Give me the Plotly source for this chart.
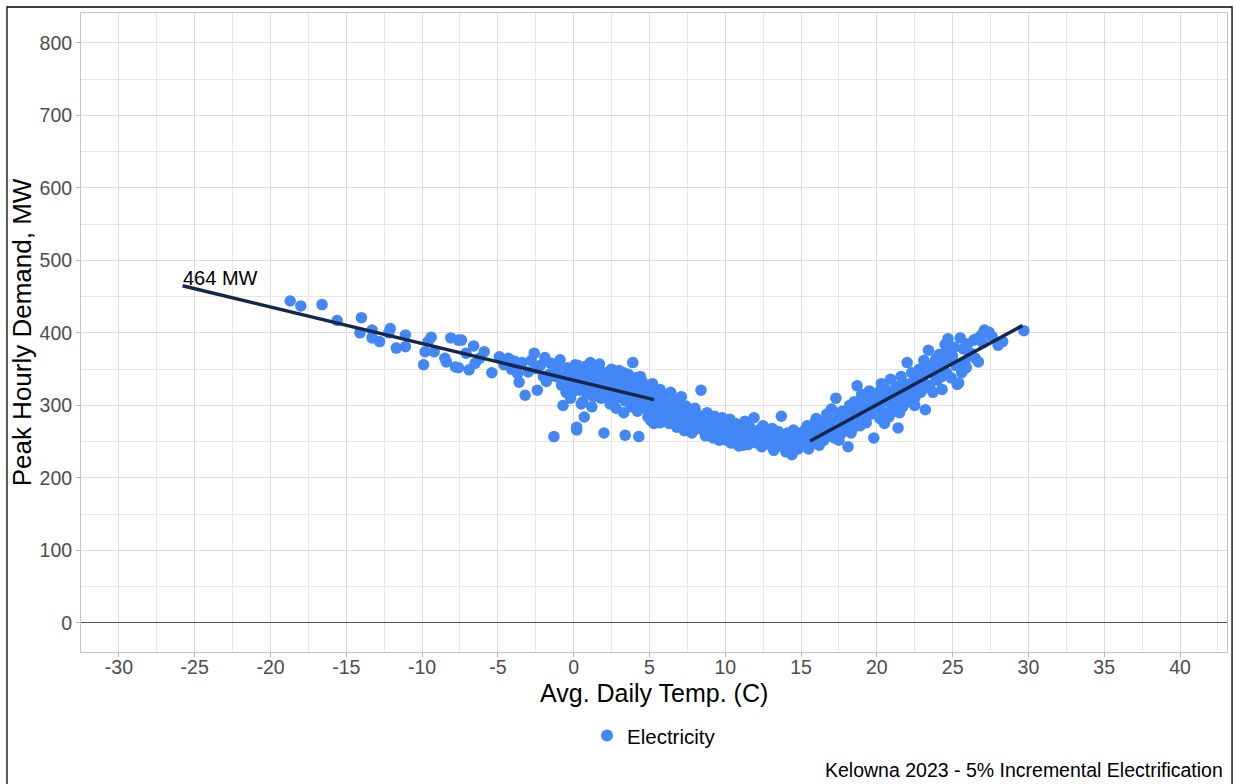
import plotly.graph_objects as go

# ---- data (Avg daily temp C, peak hourly demand MW) ----
temp_cold = [-18.7, -18.0, -16.6, -15.6, -14.0, -14.1, -13.3, -13.3, -12.8, -12.1, -12.2, -11.7, -11.1, -11.1,
             -9.9, -9.8, -9.4, -9.6, -9.2, -8.5, -8.1, -7.6, -7.8, -8.4, -7.4, -7.6, -6.9, -6.6, -5.9, -5.4,
             -6.2, -7.1, -6.5]
mw_cold = [444, 437, 439, 417, 421, 400, 404, 393, 388, 406, 400, 379, 397, 381,
           356, 374, 394, 388, 374, 365, 393, 390, 353, 360, 390, 352, 349, 382, 374, 345,
           365, 372, 358]

temp_m5 = [-4.9, -4.3, -3.6, -3.2, -3.4, -2.6, -2.4, -4.6, -4.1, -3.9, -3.0, -2.8, -2.2, -1.9, -1.6, -1.3,
           -1.1, -2.0, -3.7, -4.4, -1.5, -2.5, -1.8, -1.2]
mw_m5 = [367, 365, 332, 314, 359, 372, 321, 356, 350, 361, 346, 362, 355, 366, 343, 257,
         352, 340, 344, 362, 358, 351, 333, 340]

temp_0 = [-0.9, -0.8, -0.6, -0.5, -0.4, -0.3, -0.2, -0.1, 0.0, 0.1, 0.2, 0.2, 0.3, 0.4, 0.5, 0.6, 0.7, 0.7,
          0.8, 0.9, 1.0, 1.1, 1.1, 1.2, 1.3, 1.4, 1.5, 1.5, 1.6, 1.7, 1.8, 1.9, 1.9, -0.7, 0.0, 0.4, 1.0,
          1.3, 1.6, -0.3, 0.8, 1.2, 0.5, 1.8, 0.3]
mw_0 = [363, 328, 341, 318, 352, 335, 310, 346, 327, 356, 270, 266, 339, 321, 348, 305, 284, 333,
        354, 316, 343, 327, 359, 298, 337, 352, 318, 344, 329, 357, 310, 341, 325, 300, 320, 345, 331,
        312, 350, 328, 338, 346, 302, 334, 355]

temp_2 = [2.0, 2.1, 2.2, 2.3, 2.4, 2.5, 2.6, 2.7, 2.8, 2.9, 3.0, 3.1, 3.2, 3.3, 3.4, 3.5, 3.6, 3.7, 3.8, 3.9,
          4.0, 4.1, 4.2, 4.3, 4.4, 4.5, 4.6, 4.7, 4.8, 4.9, 5.0, 5.1, 5.2, 5.3, 5.4, 5.5, 5.6, 5.7, 5.8, 5.9,
          2.3, 2.8, 3.3, 3.8, 4.2, 4.6, 5.1, 5.5, 2.6, 3.6, 4.4, 5.3, 3.0, 4.0, 4.9]
mw_2 = [262, 345, 318, 337, 302, 350, 325, 341, 296, 332, 348, 311, 335, 290, 259, 323, 343, 305, 328, 359,
        315, 338, 292, 257, 320, 334, 298, 312, 327, 284, 318, 301, 330, 290, 314, 281, 306, 322, 288, 298,
        329, 313, 345, 298, 336, 320, 279, 310, 305, 315, 340, 275, 326, 300, 308]

temp_6 = [6.0, 6.1, 6.2, 6.3, 6.4, 6.5, 6.6, 6.7, 6.8, 6.9, 7.0, 7.1, 7.2, 7.3, 7.4, 7.5, 7.6, 7.7, 7.8, 7.9,
          8.0, 8.1, 8.2, 8.3, 8.4, 8.5, 8.6, 8.7, 8.8, 8.9, 9.0, 9.1, 9.2, 9.3, 9.4, 9.5, 9.6, 9.7, 9.8, 9.9,
          6.4, 7.2, 8.0, 8.8, 9.6, 6.9, 7.6]
mw_6 = [312, 286, 300, 275, 318, 293, 282, 306, 270, 296, 288, 312, 278, 265, 299, 284, 272, 290, 262, 281,
        296, 270, 287, 275, 321, 266, 282, 258, 290, 272, 264, 280, 255, 285, 268, 276, 252, 270, 283, 260,
        300, 292, 278, 265, 262, 305, 268]

temp_10 = [10.0, 10.1, 10.2, 10.3, 10.4, 10.5, 10.6, 10.7, 10.8, 10.9, 11.0, 11.1, 11.2, 11.3, 11.4, 11.5,
           11.6, 11.7, 11.8, 11.9, 12.0, 12.1, 12.2, 12.3, 12.4, 12.5, 12.6, 12.7, 12.8, 12.9, 13.0, 13.1,
           13.2, 13.3, 13.4, 13.5, 13.6, 13.7, 13.8, 13.9, 14.0, 14.1, 14.2, 14.3, 14.4, 14.5, 14.6, 14.7,
           14.8, 14.9, 10.5, 11.5, 12.5, 13.5, 14.5]
mw_10 = [270, 252, 262, 281, 248, 266, 258, 275, 255, 244, 268, 260, 250, 278, 256, 246,
         270, 262, 252, 283, 258, 248, 266, 255, 243, 272, 260, 250, 262, 254, 245, 268,
         238, 257, 249, 264, 252, 285, 244, 258, 236, 262, 248, 255, 232, 266, 245, 252,
         240, 260, 262, 255, 250, 245, 250]

temp_15 = [15.0, 15.1, 15.2, 15.3, 15.4, 15.5, 15.6, 15.7, 15.8, 15.9, 16.0, 16.1, 16.2, 16.3, 16.4, 16.5,
           16.6, 16.7, 16.8, 16.9, 17.0, 17.1, 17.2, 17.3, 17.4, 17.5, 17.6, 17.7, 17.8, 17.9, 18.0, 18.1,
           18.2, 18.3, 18.4, 18.5, 18.6, 18.7, 18.8, 18.9, 19.0, 19.1, 19.2, 19.3, 19.4, 19.5, 19.6, 19.7,
           19.8, 19.9, 16.0, 17.0, 18.0, 19.0, 15.5, 18.5]
mw_15 = [256, 244, 265, 250, 272, 240, 258, 262, 248, 276, 254, 268, 245, 262, 278, 252,
         266, 288, 258, 272, 262, 280, 255, 310, 270, 284, 260, 292, 274, 266, 288, 243,
         300, 278, 268, 295, 282, 327, 290, 272, 300, 285, 312, 276, 296, 320, 288, 304,
         255, 310, 282, 295, 270, 315, 268, 305]

temp_20 = [20.0, 20.1, 20.2, 20.3, 20.4, 20.5, 20.6, 20.7, 20.8, 20.9, 21.0, 21.1, 21.2, 21.3, 21.4, 21.5,
           21.6, 21.7, 21.8, 21.9, 22.0, 22.1, 22.2, 22.3, 22.4, 22.5, 22.6, 22.7, 22.8, 22.9, 23.0, 23.1,
           23.2, 23.3, 23.4, 23.5, 23.6, 23.7, 23.8, 23.9, 24.0, 24.1, 24.2, 24.3, 24.4, 24.5, 24.6, 24.7,
           24.8, 24.9, 20.5, 21.5, 22.5, 23.5, 24.5]
mw_20 = [296, 318, 282, 330, 305, 290, 322, 310, 284, 336, 300, 318, 292, 326, 269, 310,
         340, 298, 322, 312, 359, 305, 330, 345, 316, 300, 338, 328, 350, 318, 335, 362,
         294, 345, 376, 328, 356, 318, 342, 365, 335, 370, 350, 322, 360, 384, 345, 392,
         362, 338, 275, 290, 310, 348, 372]

temp_25 = [25.0, 25.2, 25.3, 25.4, 25.5, 25.7, 25.8, 26.0, 26.2, 26.4, 26.5, 26.7, 26.9, 27.1, 27.4, 27.6,
           28.0, 28.3, 29.7, 25.1, 25.6, 26.1, 26.6, 27.0, 25.9]
mw_25 = [368, 355, 329, 331, 393, 378, 360, 385, 372, 390, 365, 360, 397, 404, 401, 395,
         383, 388, 403, 380, 345, 370, 392, 386, 352]

# extra points inside the densest parts of the cloud
temp_core_a = [-0.5, 0.2, 0.6, 1.0, 1.4, 1.8, 2.2, 2.6, 3.0, 3.4, 3.8, 4.2, 4.6, 5.0, 5.4, 5.8, 6.2, 6.6,
               0.9, 1.7, 2.5, 3.3, 4.1, 4.9, 5.7]
mw_core_a = [336, 342, 326, 349, 331, 322, 339, 328, 317, 306, 336, 324, 312, 296, 301, 288, 282, 296,
             335, 348, 310, 327, 303, 292, 276]
temp_core_b = [7.0, 7.5, 8.0, 8.5, 9.0, 9.5, 10.0, 10.5, 11.0, 11.5, 12.0, 12.5, 13.0, 13.5, 14.0, 14.5,
               15.0, 10.2, 11.2, 12.2, 13.2, 14.2]
mw_core_b = [282, 276, 268, 279, 270, 260, 258, 264, 252, 266, 250, 258, 262, 244, 252, 241,
             250, 264, 245, 262, 256, 246]
temp_core_c = [16.5, 17.2, 17.8, 18.3, 18.8, 19.3, 19.8, 20.3, 20.8, 21.3, 21.8, 22.3, 22.8, 23.3, 23.8,
               24.3, 17.5, 19.5, 21.5, 23.0]
mw_core_c = [262, 275, 284, 262, 300, 292, 296, 314, 306, 320, 330, 322, 340, 352, 358,
             340, 252, 288, 300, 322]

# fitted trend lines (end points)
fit_cold_x = [-25.8, 5.3]
fit_cold_y = [465, 308]
fit_warm_x = [15.6, 29.6]
fit_warm_y = [251, 410]

peak_label = "464 MW"
x_ticks = [-30, -25, -20, -15, -10, -5, 0, 5, 10, 15, 20, 25, 30, 35, 40]
y_ticks = [0, 100, 200, 300, 400, 500, 600, 700, 800]
x_title = "Avg. Daily Temp. (C)"
y_title = "Peak Hourly Demand, MW"
caption = "Kelowna 2023 - 5% Incremental Electrification"

temps = (temp_cold + temp_m5 + temp_0 + temp_2 + temp_6 + temp_10 + temp_15 + temp_20 + temp_25
         + temp_core_a + temp_core_b + temp_core_c)
mws = (mw_cold + mw_m5 + mw_0 + mw_2 + mw_6 + mw_10 + mw_15 + mw_20 + mw_25
       + mw_core_a + mw_core_b + mw_core_c)

FONT = "Liberation Sans, Arial, sans-serif"
fig = go.Figure()
fig.add_trace(go.Scatter(
    x=temps, y=mws, mode="markers", name="Electricity",
    marker=dict(color="#4287f5", size=11.5, line=dict(width=0)),
))
for fx, fy in ((fit_cold_x, fit_cold_y), (fit_warm_x, fit_warm_y)):
    fig.add_trace(go.Scatter(x=fx, y=fy, mode="lines", showlegend=False,
                             line=dict(color="#14284b", width=3.5)))

fig.add_annotation(x=fit_cold_x[0], y=fit_cold_y[0], text=peak_label, showarrow=False,
                   xanchor="left", yanchor="bottom", yshift=-5, xshift=-2,
                   font=dict(family=FONT, size=20, color="#000000"))
fig.add_annotation(xref="paper", yref="paper", x=0.9985, y=-0.184, text=caption, showarrow=False,
                   xanchor="right", yanchor="middle", font=dict(family=FONT, size=19.5, color="#000000"))
fig.add_annotation(xref="paper", yref="paper", x=0.5, y=-0.0635, text=x_title, showarrow=False,
                   xanchor="center", yanchor="middle", font=dict(family=FONT, size=25, color="#000000"))

# outer frame
fig.add_shape(type="rect", xref="paper", yref="paper", x0=-0.0646, x1=1.0044, y0=-0.4, y1=1.0094,
              line=dict(color="#000000", width=1.3), fillcolor="rgba(0,0,0,0)", layer="above")

fig.update_layout(
    width=1235, height=784,
    margin=dict(l=81, r=8, t=13, b=132),
    paper_bgcolor="white", plot_bgcolor="white",
    font=dict(family=FONT),
    showlegend=True,
    legend=dict(orientation="h", x=0.5, xanchor="center", y=-0.131, yanchor="middle",
                font=dict(family=FONT, size=20.5, color="#000000"), itemsizing="constant"),
)
fig.update_xaxes(
    range=[-32.5, 43.1], tickvals=x_ticks, ticktext=[str(v) for v in x_ticks],
    tickfont=dict(size=19.5, color="#4d4d4d"), ticklabelstandoff=-6,
    showgrid=True, gridcolor="#dcdcdc", gridwidth=1,
    minor=dict(dtick=2.5, tick0=0, showgrid=True, gridcolor="#e6e6e6", gridwidth=1),
    ticks="outside", ticklen=4, tickcolor="#b3b3b3",
    showline=True, linecolor="#c4c4c4", linewidth=1, mirror=True, zeroline=False,
)
fig.update_yaxes(
    range=[-40, 841], tickvals=y_ticks, ticktext=[str(v) for v in y_ticks],
    tickfont=dict(size=19.5, color="#4d4d4d"),
    showgrid=True, gridcolor="#dcdcdc", gridwidth=1,
    minor=dict(dtick=50, tick0=0, showgrid=True, gridcolor="#e6e6e6", gridwidth=1),
    ticks="outside", ticklen=4, tickcolor="#b3b3b3",
    showline=True, linecolor="#c4c4c4", linewidth=1, mirror=True,
    zeroline=True, zerolinecolor="#555555", zerolinewidth=1.2,
    title=dict(text=y_title, font=dict(family=FONT, size=26, color="#000000"), standoff=0),
)

# remove the browser's default 8px page margin so the figure fills the window exactly
fig.write_html("out.html", config={"displayModeBar": False},
               post_script="document.body.style.margin='0';")
